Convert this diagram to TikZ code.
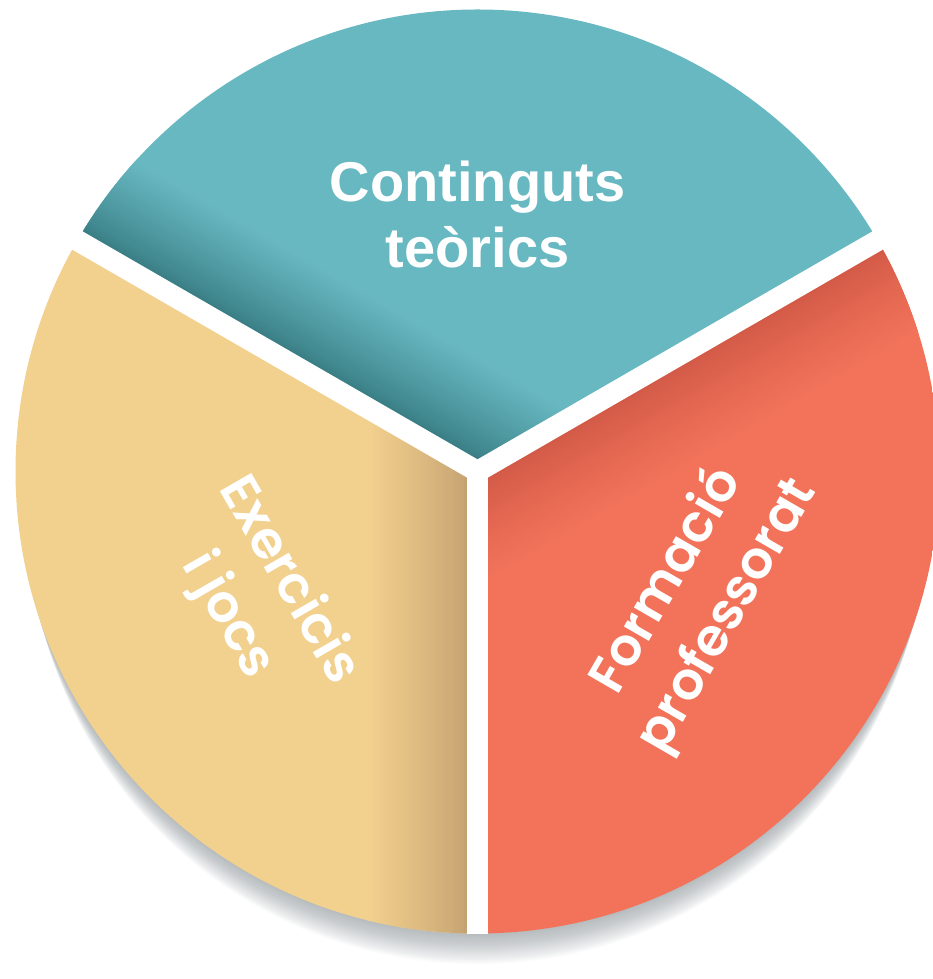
\documentclass[tikz,border=0pt]{standalone}
\usepackage{fontspec}
\setmainfont{Liberation Sans}
\newfontfamily\popfont{Poppins}[BoldFont={Poppins SemiBold}]
\definecolor{tealbase}{HTML}{68B8C2}
\definecolor{tealdark}{HTML}{3A7F86}
\definecolor{yelbase}{HTML}{F2D08E}
\definecolor{yeldark}{HTML}{C5A272}
\definecolor{orabase}{HTML}{F2735A}
\definecolor{oradark}{HTML}{D35A47}
\definecolor{shadowc}{RGB}{110,120,125}
\newcommand{\pieslice}[5]{%
  \begin{scope}[shift={(G)}]
    \clip (0,0) circle (462);
    \clip (0,0) -- (#1:1500) -- ({(#1+#2)/2}:1500) -- (#2:1500) -- cycle;
    \fill[#3] (0,0) circle (470);
    \begin{scope}[rotate=#2]
      \foreach \i in {0,...,29}{
        \pgfmathsetmacro\pct{100*(\i/29)^0.85}
        \fill[#3!\pct!#4] (-50,{-10.5-#5*\i/30+0.4}) rectangle (1500,{-10.5-#5*(\i+1)/30});
      }
    \end{scope}
  \end{scope}}
\tikzset{
  gap/.style={white, line width=21pt},
  toptext/.style={text=white, align=center, inner sep=0pt,
    font=\fontsize{56}{66}\selectfont\bfseries},
  rottext/.style={text=white, align=center, inner sep=0pt,
    font=\popfont\fontsize{52}{70}\selectfont\bfseries},
  shadowdisc/.style={fill=shadowc, opacity=0.014}
}
\begin{document}
\begin{tikzpicture}[x=1pt,y=1pt]
\useasboundingbox (0,0) rectangle (933,979);
\coordinate (G) at (477.5,507.5);
% shadow
\foreach \k in {1,...,44}{
  \fill[shadowdisc] ([yshift=-\k pt]G) circle ({462-0.3*\k});
}
% slices
\pieslice{30}{150}{tealbase}{tealdark}{90}
\pieslice{150}{270}{yelbase}{yeldark}{100}
\pieslice{270}{390}{orabase}{oradark}{90}
% gaps
\begin{scope}
\clip (G) circle (462.5);
\draw[gap] (G) -- ++(30:600);
\draw[gap] (G) -- ++(150:600);
\draw[gap] (G) -- ++(270:600);
\fill[white] (G) circle (10.5);
\end{scope}
% labels
\node[toptext] (t1) at (477.5,764.5) {Continguts\\teòrics};
\node[rottext, rotate=-60] (t2) at (257.5,380.5) {Exercicis\\i jocs};
\node[rottext, rotate=60] (t3) at (697.5,380.5) {Formació\\professorat};
\end{tikzpicture}
\end{document}
